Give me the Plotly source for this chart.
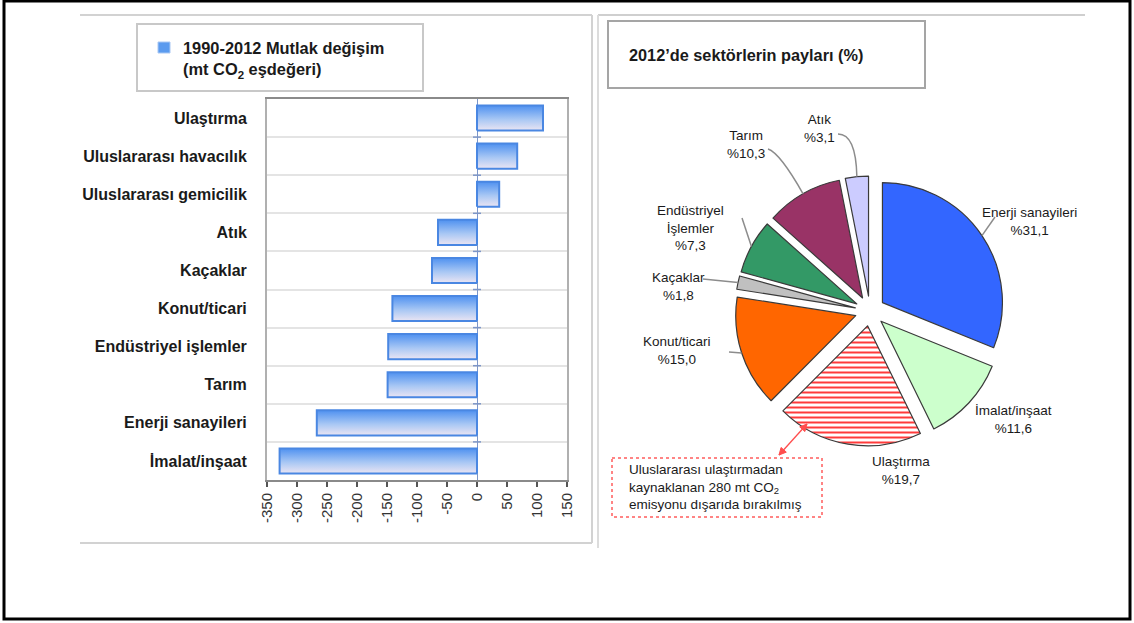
import math
import plotly.graph_objects as go

W, H = 1134, 623
FONT = "Liberation Sans, Arial, Helvetica, sans-serif"

# 1990-2012 absolute change by sector (mt CO2 eq.)
sectors = ["Ulaştırma", "Uluslararası havacılık", "Uluslararası gemicilik", "Atık", "Kaçaklar",
           "Konut/ticari", "Endüstriyel işlemler", "Tarım", "Enerji sanayileri", "İmalat/inşaat"]
change_1990_2012 = [110, 67, 37, -65, -75, -141, -148, -149, -267, -329]
x_ticks = [-350, -300, -250, -200, -150, -100, -50, 0, 50, 100, 150]

# 2012 sector shares (%)
pie_names = ["Enerji sanayileri", "İmalat/inşaat", "Ulaştırma", "Konut/ticari", "Kaçaklar",
             "Endüstriyel<br>İşlemler", "Tarım", "Atık"]
pie_shares = [31.1, 11.6, 19.7, 15.0, 1.8, 7.3, 10.3, 3.1]
pie_colors = ["#3366ff", "#ccffcc", "#ffffff", "#ff6600", "#c0c0c0", "#339966", "#993366", "#ccccff"]
pie_patterns = ["", "", "-", "", "", "", "", ""]


def px(x):
    return x / W


def py(y):
    return 1 - y / H


fig = go.Figure()

# horizontal bars drawn as filled polygons so they can carry a vertical gradient
n = len(sectors)
half = 0.33
for i, v in enumerate(change_1990_2012):
    yc = n - 1 - i
    fig.add_trace(go.Scatter(
        x=[0, v, v, 0, 0],
        y=[yc - half, yc - half, yc + half, yc + half, yc - half],
        mode="lines", fill="toself",
        fillgradient=dict(type="vertical",
                          colorscale=[[0, "#ebe5f3"], [0.45, "#a8c7f4"], [1, "#4f91f0"]]),
        line=dict(color="#4a87e2", width=2),
        showlegend=False, hoverinfo="skip",
        xaxis="x", yaxis="y",
    ))

# pie of 2012 shares
pie_center = (870, 311)
pie_r = 120
pull = 0.125
pie_side = 2 * pie_r * (1 + pull)
fig.add_trace(go.Pie(
    values=pie_shares, labels=pie_names, sort=False, direction="clockwise", rotation=0,
    pull=pull, textinfo="none", hoverinfo="skip", showlegend=False, automargin=False,
    marker=dict(colors=pie_colors, line=dict(color="#3a3a3a", width=1.2),
                pattern=dict(shape=pie_patterns, fgcolor="#ff3b3b", size=5, solidity=0.4)),
    domain=dict(x=[px(pie_center[0] - pie_side / 2), px(pie_center[0] + pie_side / 2)],
                y=[py(pie_center[1] + pie_side / 2), py(pie_center[1] - pie_side / 2)]),
))


def fmt_share(s):
    return "%" + f"{s:.1f}".replace(".", ",")


def line(x0, y0, x1, y1, color, width, dash="solid"):
    return dict(type="line", xref="paper", yref="paper", x0=px(x0), y0=py(y0), x1=px(x1), y1=py(y1),
                line=dict(color=color, width=width, dash=dash))


def rect(x0, y0, x1, y1, color, width, fill="rgba(0,0,0,0)", dash="solid"):
    return dict(type="rect", xref="paper", yref="paper", x0=px(x0), y0=py(y0), x1=px(x1), y1=py(y1),
                line=dict(color=color, width=width, dash=dash), fillcolor=fill)


def path(points, color, width, fill="rgba(0,0,0,0)", curve=False, close=False):
    pts = [f"{px(x):.5f},{py(y):.5f}" for x, y in points]
    if curve and len(pts) == 3:
        d = f"M{pts[0]} Q{pts[1]} {pts[2]}"
    else:
        d = "M" + " L".join(pts)
    if close:
        d += " Z"
    return dict(type="path", xref="paper", yref="paper", path=d,
                line=dict(color=color, width=width), fillcolor=fill)


# slice label positions (text centres) and leader-line tails/elbows, in pixels
label_pos = [(1029, 221), (1013, 419), (901, 470), (677, 350), (678, 286), (690, 228), (746, 145), (819, 128)]
leader_tail = [[(995, 217)], None, None, [(729, 352)], [(703, 279)], [(742, 218)],
               [(768, 149), (780, 153)], [(838, 134), (856, 134)]]

annotations = []
shapes = []
cum = 0.0
total = sum(pie_shares)
for name, share, pos, tail in zip(pie_names, pie_shares, label_pos, leader_tail):
    mid = (cum + share / 2) / total * 2 * math.pi
    cum += share
    annotations.append(dict(
        text=f"{name}<br>{fmt_share(share)}", x=px(pos[0]), y=py(pos[1]),
        xref="paper", yref="paper", xanchor="center", yanchor="middle", showarrow=False,
        font=dict(family=FONT, size=13.5, color="#1a1a1a"), align="center",
    ))
    if tail is not None:
        d = pie_r * (1 + pull)
        head = (pie_center[0] + d * math.sin(mid), pie_center[1] - d * math.cos(mid))
        shapes.append(path(tail + [head], "#8c8c8c", 1.5, curve=len(tail) == 2))

# legend text for the bar chart
annotations.append(dict(
    text="<b>1990-2012 Mutlak değişim<br>(mt CO<sub>2</sub> eşdeğeri)</b>",
    x=px(181), y=py(60), xref="paper", yref="paper", xanchor="left", yanchor="middle",
    showarrow=False, align="left", font=dict(family=FONT, size=16.4, color="#1a1a1a"),
))
# pie title
annotations.append(dict(
    text="<b>2012’de sektörlerin payları (%)</b>",
    x=px(627), y=py(55), xref="paper", yref="paper", xanchor="left", yanchor="middle",
    showarrow=False, font=dict(family=FONT, size=16.3, color="#1a1a1a"),
))
# note on international transport
annotations.append(dict(
    text="Uluslararası ulaştırmadan<br>kaynaklanan 280 mt CO<sub>2</sub><br>emisyonu dışarıda bırakılmış",
    x=px(627), y=py(487), xref="paper", yref="paper", xanchor="left", yanchor="middle",
    showarrow=False, align="left", font=dict(family=FONT, size=13.5, color="#1a1a1a"),
))

# double-headed red arrow between the note and the transport slice
a_start, a_end = (779, 455), (807, 424)
red = "#ff4d4d"
shapes.append(line(*a_start, *a_end, red, 1.3))
ux, uy = a_end[0] - a_start[0], a_end[1] - a_start[1]
ln = math.hypot(ux, uy)
ux, uy = ux / ln, uy / ln
for tip, sgn in ((a_end, 1), (a_start, -1)):
    bx, by = tip[0] - sgn * 7 * ux, tip[1] - sgn * 7 * uy
    shapes.append(path([tip, (bx - 3.5 * uy, by + 3.5 * ux), (bx + 3.5 * uy, by - 3.5 * ux)],
                       red, 1, fill=red, close=True))

# small category ticks across the zero line of the bar chart
for k in range(n - 1):
    shapes.append(dict(type="line", xref="x", yref="y", xsizemode="pixel", xanchor=0,
                       x0=-4, x1=4, y0=k + 0.5, y1=k + 0.5,
                       line=dict(color="#7d96c8", width=1.5)))

shapes += [
    rect(4, 1, 1130, 619, "#000000", 3),
    line(80, 15, 592, 15, "#d2d2d2", 2),
    line(592, 15, 592, 543, "#d2d2d2", 2),
    line(80, 543, 592, 543, "#d2d2d2", 2),
    line(598, 15, 1085, 15, "#cfcfcf", 2),
    line(598, 15, 598, 548, "#dcdcdc", 2),
    rect(137, 24, 423, 91, "#c8c8c8", 2),
    rect(158, 42, 170, 53, "#a9c8f4", 1, fill="#5b9bef"),
    rect(608, 21, 925, 88, "#a5a5a5", 2),
    rect(612, 458, 822, 517, "#ff5c5c", 1.5, dash="dot"),
]

fig.update_layout(
    width=W, height=H, margin=dict(l=0, r=0, t=0, b=0, autoexpand=False),
    paper_bgcolor="white", plot_bgcolor="white",
    font=dict(family=FONT, color="#1a1a1a"),
    showlegend=False,
    xaxis=dict(
        domain=[px(267), px(567)], range=[-350, 150], automargin=False,
        tickvals=x_ticks, ticktext=[str(t) for t in x_ticks], tickangle=-90,
        ticks="outside", ticklen=5, tickwidth=1.5, tickcolor="#555555",
        tickfont=dict(family=FONT, size=15, color="#333333"),
        showline=True, linecolor="#8a8a8a", linewidth=2, mirror=True,
        showgrid=False, zeroline=True, zerolinecolor="#7d96c8", zerolinewidth=1,
        fixedrange=True,
    ),
    yaxis=dict(
        domain=[py(480), py(99)], range=[-0.5, n - 0.5], automargin=False,
        tickvals=list(range(n)), ticktext=[f"<b>{s}</b>" for s in reversed(sectors)],
        ticks="", ticklabelstandoff=15,
        tickfont=dict(family=FONT, size=16, color="#1a1a1a"),
        showline=True, linecolor="#b0b0b0", linewidth=2, mirror=True,
        showgrid=False, zeroline=False,
        minor=dict(tickvals=[i + 0.5 for i in range(n - 1)], showgrid=True,
                   gridcolor="#e4e4e4", gridwidth=2, ticks=""),
        fixedrange=True,
    ),
    annotations=annotations,
    shapes=shapes,
)

fig.write_html("out.html")
